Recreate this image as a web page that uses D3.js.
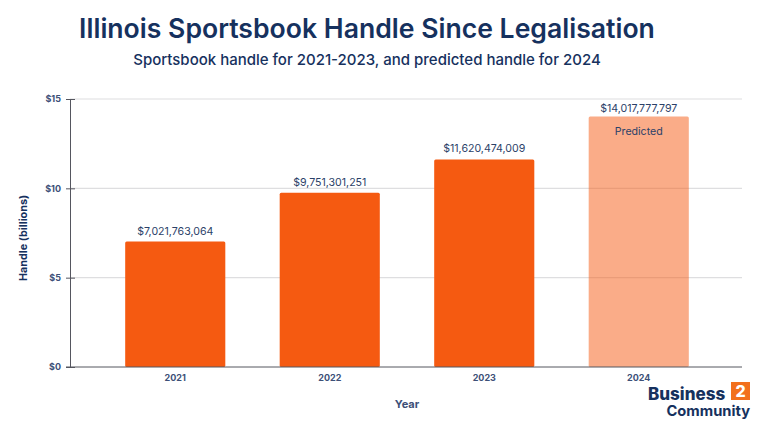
<!DOCTYPE html>
<html><head><meta charset="utf-8">
<script src="https://cdn.jsdelivr.net/npm/d3@7"></script>
<style>html,body{margin:0;padding:0;background:#fff}svg{display:block}text{font-family:Inter,"Noto Sans",sans-serif}</style>
</head><body><svg id="c" width="760" height="428"></svg>
<script>
const years = ["2021","2022","2023","2024"];
const handle = [7021763064, 9751301251, 11620474009, 14017777797];
const valueLabels = ["$7,021,763,064","$9,751,301,251","$11,620,474,009","$14,017,777,797"];
const predicted = [false,false,false,true];
const yTicks = [0,5,10,15];
const titleText = "Illinois Sportsbook Handle Since Legalisation";
const subtitleText = "Sportsbook handle for 2021-2023, and predicted handle for 2024";
const navy = "#16315e", labelCol = "#2b4168", tickCol = "#3d5078", axisCol = "#55565f", gridCol = "#dedee0";

const svg = d3.select("#c");
const x = d3.scaleBand().domain(years).range([98,716]).paddingInner(0.352).paddingOuter(0.176);
const y = d3.scaleLinear().domain([0,15]).range([367,99]);

svg.append("text").attr("x",367).attr("y",37.5).attr("text-anchor","middle").attr("font-size",26.6).attr("font-weight",600).attr("fill",navy).text(titleText);
svg.append("text").attr("x",367).attr("y",65).attr("text-anchor","middle").attr("font-size",15).attr("font-weight",500).attr("fill",navy).text(subtitleText);

// grid
svg.append("g").selectAll("line").data(yTicks.slice(1)).join("line")
  .attr("x1",70).attr("x2",742).attr("y1",d=>y(d)).attr("y2",d=>y(d)).attr("stroke",gridCol).attr("stroke-width",1.2);

// bars
svg.append("g").selectAll("rect").data(years).join("rect")
  .attr("x",d=>x(d)).attr("width",x.bandwidth())
  .attr("y",(d,i)=>y(handle[i]/1e9)).attr("height",(d,i)=>y(0)-y(handle[i]/1e9))
  .attr("rx",1.5)
  .attr("fill","#f55a11").attr("fill-opacity",(d,i)=>predicted[i]?0.5:1);

// axes
const yAxis = svg.append("g").attr("transform","translate(70,0)")
  .call(d3.axisLeft(y).tickValues(yTicks).tickFormat(d=>"$"+d).tickSize(4));
yAxis.select(".domain").attr("stroke",axisCol).attr("stroke-width",1);
yAxis.selectAll(".tick line").attr("x2",5).attr("x1",-4).attr("stroke",axisCol);
yAxis.selectAll(".tick text").attr("x",-9).attr("font-size",9).attr("font-weight",700).attr("fill",tickCol).style("font-family","Inter");

const xAxis = svg.append("g").attr("transform","translate(0,367)")
  .call(d3.axisBottom(x).tickSize(0).tickPadding(8));
xAxis.select(".domain").remove();
xAxis.selectAll(".tick text").attr("font-size",9).attr("font-weight",700).attr("fill",tickCol).style("font-family","Inter");
svg.append("line").attr("x1",66).attr("x2",742).attr("y1",367).attr("y2",367).attr("stroke",axisCol);

// value labels
svg.append("g").selectAll("text").data(years).join("text")
  .attr("x",d=>x(d)+x.bandwidth()/2).attr("y",(d,i)=>y(handle[i]/1e9)-(predicted[i]?5:7))
  .attr("text-anchor","middle").attr("font-size",10.6).attr("font-weight",400).attr("fill",labelCol)
  .text((d,i)=>valueLabels[i]);
svg.append("text").attr("x",x("2024")+x.bandwidth()/2).attr("y",135).attr("text-anchor","middle")
  .attr("font-size",10.6).attr("font-weight",400).attr("fill",labelCol).text("Predicted");

// axis titles
svg.append("text").attr("transform","translate(27,238) rotate(-90)").attr("text-anchor","middle").attr("font-size",10.8).attr("font-weight",700).attr("fill",navy).text("Handle (billions)");
svg.append("text").attr("x",407).attr("y",408).attr("text-anchor","middle").attr("font-size",11).attr("font-weight",700).attr("fill",tickCol).text("Year");

// logo
svg.append("text").attr("x",648).attr("y",400).attr("font-size",17).attr("font-weight",800).attr("fill",navy).text("Business");
svg.append("rect").attr("x",731).attr("y",382).attr("width",19).attr("height",18).attr("fill","#f2701d");
svg.append("text").attr("x",740.5).attr("y",397).attr("text-anchor","middle").attr("font-size",16).attr("font-weight",800).attr("fill","#fff").text("2");
svg.append("text").attr("x",750).attr("y",416).attr("text-anchor","end").attr("font-size",14.7).attr("font-weight",700).attr("fill",navy).text("Community");
</script></body></html>
